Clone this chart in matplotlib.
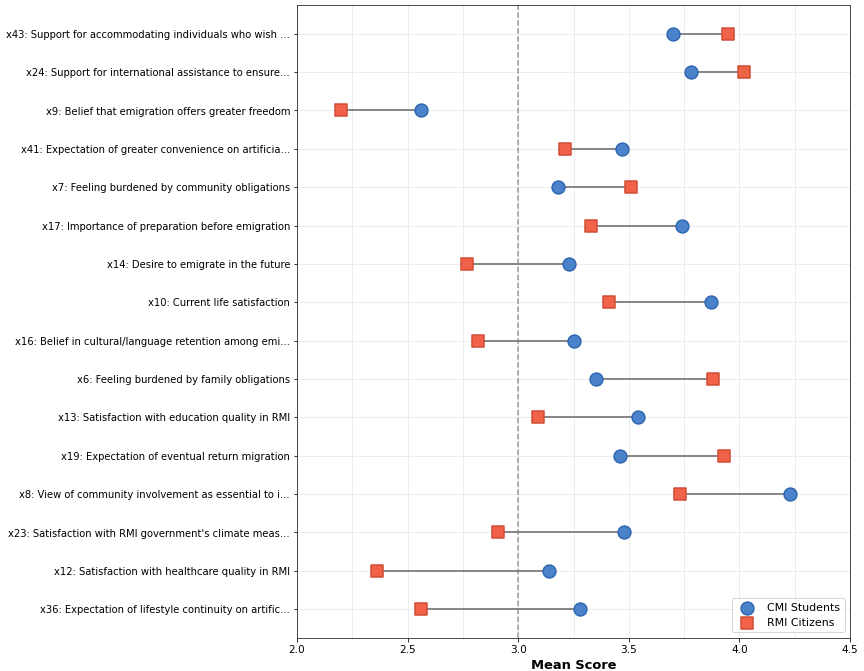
import matplotlib
matplotlib.use("Agg")
import matplotlib.pyplot as plt
from matplotlib.ticker import MultipleLocator

labels = [
    "x43: Support for accommodating individuals who wish ...",
    "x24: Support for international assistance to ensure...",
    "x9: Belief that emigration offers greater freedom",
    "x41: Expectation of greater convenience on artificia...",
    "x7: Feeling burdened by community obligations",
    "x17: Importance of preparation before emigration",
    "x14: Desire to emigrate in the future",
    "x10: Current life satisfaction",
    "x16: Belief in cultural/language retention among emi...",
    "x6: Feeling burdened by family obligations",
    "x13: Satisfaction with education quality in RMI",
    "x19: Expectation of eventual return migration",
    "x8: View of community involvement as essential to i...",
    "x23: Satisfaction with RMI government's climate meas...",
    "x12: Satisfaction with healthcare quality in RMI",
    "x36: Expectation of lifestyle continuity on artific...",
]
cmi = [3.70, 3.78, 2.56, 3.47, 3.18, 3.74, 3.23, 3.87, 3.25, 3.35, 3.54, 3.46, 4.23, 3.48, 3.14, 3.28]
rmi = [3.95, 4.02, 2.20, 3.21, 3.51, 3.33, 2.77, 3.41, 2.82, 3.88, 3.09, 3.93, 3.73, 2.91, 2.36, 2.56]

fig, ax = plt.subplots(figsize=(12, 9.32), dpi=72)
fig.subplots_adjust(left=0.3438, right=0.9838, top=0.9925, bottom=0.0492)
y = list(range(len(labels)))[::-1]

for yi, a, b in zip(y, cmi, rmi):
    ax.plot([a, b], [yi, yi], color="#888888", lw=2, zorder=1)

ax.scatter(cmi, y, s=165, marker="o", color="#4A83C9", edgecolor="#2F67B2", linewidth=1.5, zorder=3, label="CMI Students")
ax.scatter(rmi, y, s=165, marker="s", color="#F0624A", edgecolor="#D24A33", linewidth=1.5, zorder=3, label="RMI Citizens")

ax.axvline(3.0, color="gray", ls="--", lw=1.5, alpha=0.8, zorder=2)

ax.set_yticks(y)
ax.set_yticklabels(labels, fontsize=10)
ax.set_xlim(2.0, 4.5)
ax.xaxis.set_major_locator(MultipleLocator(0.5))
ax.xaxis.set_minor_locator(MultipleLocator(0.25))
ax.tick_params(axis="x", which="minor", length=0)
ax.tick_params(axis="x", labelsize=10.5)
ax.grid(True, which="both", color="#ececec", lw=1, zorder=0)
ax.set_axisbelow(True)
for s in ax.spines.values():
    s.set_color("#222222")
ax.set_xlabel("Mean Score", fontsize=13, fontweight="bold")
ax.legend(loc="lower right", fontsize=11)

fig.savefig("out.png", dpi=72)
